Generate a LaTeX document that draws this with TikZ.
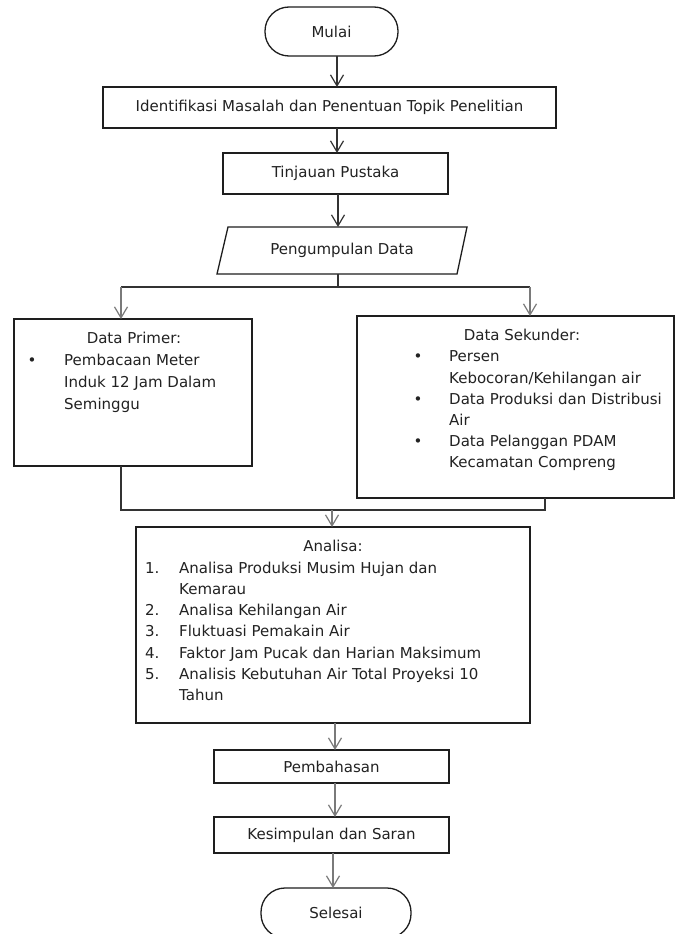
\documentclass[tikz,border=0pt]{standalone}
\usepackage{fontspec}
\setmainfont{DejaVu Sans}
\usetikzlibrary{arrows.meta,calc}
\definecolor{txt}{HTML}{222222}
\definecolor{boxc}{HTML}{1E1E1E}
\definecolor{arrdark}{HTML}{333333}
\definecolor{arrgray}{HTML}{7A7A7A}
\begin{document}
\begin{tikzpicture}[x=1pt,y=-1pt,
  every node/.style={font=\fontsize{15}{18}\selectfont, text=txt},
  box/.style={draw=boxc, line width=1.3pt, inner sep=0pt, outer sep=0pt, rectangle},
  term/.style={box, rounded corners=24pt},
  ghost/.style={inner sep=0pt, outer sep=0pt, rectangle},
  lbl/.style={inner sep=0pt, anchor=mid west},
  ctr/.style={inner sep=0pt, anchor=mid},
  conn/.style={draw=arrdark, line width=1.2pt},
  arr/.style={conn, -{Straight Barb[length=11pt,width=13pt]}},
  garr/.style={arr, draw=arrgray},
  gconn/.style={conn, draw=arrgray}
]
\fill[white] (0,0) rectangle (675,934);
\useasboundingbox (0,0) rectangle (675,934);
\clip (0,0) rectangle (675,934);

% ---- main nodes ----
\node[term, minimum width=133pt, minimum height=49pt] (mulai) at (331.5,31.5) {Mulai};
\node[box, minimum width=453pt, minimum height=41pt] (ident) at (329.5,107.5) {Identifikasi Masalah dan Penentuan Topik Penelitian};
\node[box, minimum width=225pt, minimum height=41pt] (tinj) at (335.5,173.5) {Tinjauan Pustaka};
\node[ghost, minimum width=250pt, minimum height=47pt] (pd) at (342,250.5) {Pengumpulan Data};
\draw[draw=boxc, line width=1.3pt] (pd.south west) -- ($(pd.south east)+(-10,0)$) -- (pd.north east) -- ($(pd.north west)+(11,0)$) -- cycle;

\node[box, minimum width=238pt, minimum height=147pt] (prim) at (133,392.5) {};
\node[box, minimum width=317pt, minimum height=182pt] (sek) at (515.5,407) {};
\node[box, minimum width=394pt, minimum height=196pt] (anal) at (333,625) {};
\node[box, minimum width=235pt, minimum height=33pt] (bahas) at (331.5,766.5) {Pembahasan};
\node[box, minimum width=235pt, minimum height=36pt] (kes) at (331.5,835) {Kesimpulan dan Saran};
\node[term, minimum width=150pt, minimum height=50pt] (sel) at (336,913) {Selesai};

% ---- texts in Data Primer ----
\node[ctr] (pt0) at (134,341) {Data Primer:};
\node[ctr] (pb1) at (32,363) {•};
\node[lbl] (pt1) at (64,363) {Pembacaan Meter};
\node[lbl] (pt2) at (64,385) {Induk 12 Jam Dalam};
\node[lbl] (pt3) at (64,407) {Seminggu};

% ---- texts in Data Sekunder ----
\node[ctr] (st0) at (522,338) {Data Sekunder:};
\node[ctr] (sb1) at (418,359) {•};
\node[lbl] (st1) at (449,359) {Persen};
\node[lbl] (st2) at (449,380.5) {Kebocoran/Kehilangan air};
\node[ctr] (sb2) at (418,402) {•};
\node[lbl] (st3) at (449,402) {Data Produksi dan Distribusi};
\node[lbl] (st4) at (449,423) {Air};
\node[ctr] (sb3) at (418,444) {•};
\node[lbl] (st5) at (449,444) {Data Pelanggan PDAM};
\node[lbl] (st6) at (449,465) {Kecamatan Compreng};

% ---- texts in Analisa ----
\node[ctr] (at0) at (333,549) {Analisa:};
\node[lbl] (an1) at (145,570.5) {1.};
\node[lbl] (at1) at (179,570.5) {Analisa Produksi Musim Hujan dan};
\node[lbl] (at1b) at (179,592) {Kemarau};
\node[lbl] (an2) at (145,613) {2.};
\node[lbl] (at2) at (179,613) {Analisa Kehilangan Air};
\node[lbl] (an3) at (145,634) {3.};
\node[lbl] (at3) at (179,634) {Fluktuasi Pemakain Air};
\node[lbl] (an4) at (145,655.5) {4.};
\node[lbl] (at4) at (179,655.5) {Faktor Jam Pucak dan Harian Maksimum};
\node[lbl] (an5) at (145,677) {5.};
\node[lbl] (at5) at (179,677) {Analisis Kebutuhan Air Total Proyeksi 10};
\node[lbl] (at5b) at (179,698) {Tahun};

% ---- connectors ----
\draw[arr] ([xshift=5.5pt]mulai.south) -- ([xshift=5.5pt]mulai.south |- ident.north);
\draw[arr] ([xshift=1.5pt]tinj.north |- ident.south) -- ([xshift=1.5pt]tinj.north);
\draw[arr] ([xshift=-4pt]pd.north |- tinj.south) -- ([xshift=-4pt]pd.north);

\coordinate (split) at (338,287);
\draw[conn] ([xshift=-4pt]pd.south) -- (split);
\draw[conn] ([xshift=-12pt]prim.north |- split) -- ([xshift=14.5pt]sek.north |- split);
\draw[garr] ([xshift=-12pt]prim.north |- split) -- ([xshift=-12pt]prim.north);
\draw[garr] ([xshift=14.5pt]sek.north |- split) -- ([xshift=14.5pt]sek.north);

\coordinate (merge) at (332,510);
\draw[conn] ([xshift=-12pt]prim.south) |- (merge);
\draw[conn] ([xshift=29.5pt]sek.south) |- (merge);
\draw[garr] (merge) -- (merge |- anal.north);

\draw[garr] ([xshift=3.5pt]bahas.north |- anal.south) -- ([xshift=3.5pt]bahas.north);
\draw[garr] ([xshift=3.5pt]bahas.south) -- ([xshift=3.5pt]bahas.south |- kes.north);
\draw[garr] ([xshift=1.5pt]kes.south) -- ([xshift=1.5pt]kes.south |- sel.north);
\end{tikzpicture}
\end{document}
